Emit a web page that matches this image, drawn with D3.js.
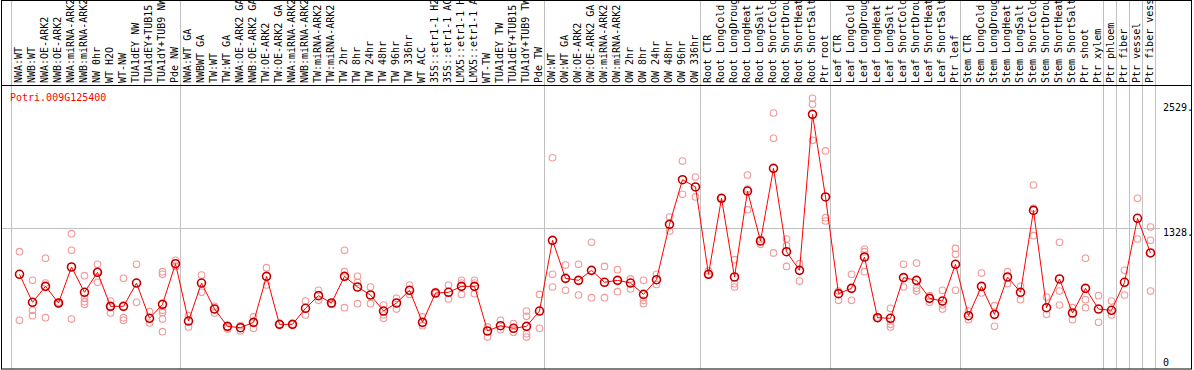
<!DOCTYPE html>
<html>
<head>
<meta charset="utf-8">
<script src="https://d3js.org/d3.v7.min.js"></script>
<style>
  body { margin: 0; background: #fff; }
  svg { display: block; }
  text { font-family: 'DejaVu Sans Mono', monospace; font-size: 10px; }
</style>
</head>
<body>
<svg></svg>
<script>
var geneName = "Potri.009G125400";

var sampleLabels = [
  "NWA:WT", "NWB:WT", "NWA:OE-ARK2", "NWB:OE-ARK2", "NWA:miRNA-ARK2", "NWB:miRNA-ARK2",
  "NW 0hr", "WT H2O", "WT-NW", "TUA1dEY NW", "TUA1dEY+TUB15", "TUA1dY+TUB9 NW", "Pde NW",
  "NWA:WT GA", "NWBWT GA", "TW:WT", "TW:WT GA", "NWA:OE-ARK2 GA", "NWB:OE-ARK2 GA",
  "TW:OE-ARK2", "TW:OE-ARK2 GA", "NWA:miRNA-ARK2", "NWB:miRNA-ARK2", "TW:miRNA-ARK2",
  "TW:miRNA-ARK2", "TW 2hr", "TW 8hr", "TW 24hr", "TW 48hr", "TW 96hr", "TW 336hr",
  "WT ACC", "35S::etr1-1 H2O", "35S::etr1-1 ACC", "LMX5::etr1-1 H2O", "LMX5::etr1-1 ACC",
  "WT-TW", "TUA1dEY TW", "TUA1dEY+TUB15", "TUA1dY+TUB9 TW", "Pde TW",
  "OW:WT", "OW:WT GA", "OW:OE-ARK2", "OW:OE-ARK2 GA", "OW:miRNA-ARK2", "OW:miRNA-ARK2",
  "OW 2hr", "OW 8hr", "OW 24hr", "OW 48hr", "OW 96hr", "OW 336hr",
  "Root CTR", "Root LongCold", "Root LongDrought", "Root LongHeat", "Root LongSalt",
  "Root ShortCold", "Root ShortDrought", "Root ShortHeat", "Root ShortSalt", "Ptr root",
  "Leaf CTR", "Leaf LongCold", "Leaf LongDrought", "Leaf LongHeat", "Leaf LongSalt",
  "Leaf ShortCold", "Leaf ShortDrought", "Leaf ShortHeat", "Leaf ShortSalt", "Ptr leaf",
  "Stem CTR", "Stem LongCold", "Stem LongDrought", "Stem LongHeat", "Stem LongSalt",
  "Stem ShortCold", "Stem ShortDrought", "Stem ShortHeat", "Stem ShortSalt", "Ptr shoot",
  "Ptr xylem", "Ptr phloem", "Ptr fiber", "Ptr vessel", "Ptr fiber vessel"
];

// mittelwerte
var meanValues = [
  886, 617, 770, 610, 956, 713, 905, 578, 578, 802, 463, 597, 988,
  437, 802, 552, 386, 373, 424, 866, 405, 405, 559, 681, 610, 866, 764, 687, 533, 610, 732,
  424, 706, 713, 770, 770, 341, 392, 367, 386, 533,
  1212, 847, 828, 924, 809, 828, 802, 693, 834, 1366, 1795, 1725,
  886, 1616, 860, 1686, 1206, 1904, 1103, 924, 2423, 1629,
  700, 751, 1052, 469, 463, 854, 828, 655, 629, 982,
  488, 770, 501, 860, 713, 1500, 565, 841, 514, 751,
  552, 540, 809, 1424, 1091
];

// einzelne Replikate
var replicateValues = [
  [1103, 444], [828, 540, 488], [1039, 802, 469], [610, 617, 604], [1276, 1116, 456],
  [873, 655, 623, 597], [982, 911, 809], [629, 578, 514], [847, 469, 444], [982, 617],
  [527, 418], [911, 886, 540, 520, 456, 335], [1020, 962],
  [488, 380], [879, 713], [578, 514], [380, 360], [392, 341], [476, 367], [950, 783],
  [405], [405], [629, 495], [732, 636], [604, 597], [1116, 911, 565], [866, 809, 604],
  [764, 604], [591, 463, 495], [655, 552], [783, 693],
  [476, 392], [719, 700], [783, 649], [828, 802, 693], [828, 802, 700], [380, 283],
  [444, 354], [412, 328], [533, 482, 315, 283], [693, 367],
  [2006, 886, 764], [975, 732], [982, 687], [1193, 661], [962, 661], [930, 719],
  [841, 745], [828, 636, 604], [886, 789], [1436, 1302], [1974, 1654], [1821, 1629],
  [918, 886], [1616, 1622], [1026, 796, 764], [1840, 1705, 1507], [1225, 1174],
  [2436, 2192, 1091], [1225, 1161, 962], [988, 821], [2577, 2519, 2173], [2071, 1430, 1398],
  [725, 636], [886, 636], [1129, 1103, 911], [463, 476], [559, 405, 380],
  [982, 764], [994, 751, 725], [681, 617], [732, 591, 552], [1135, 1078, 732],
  [533, 450], [898, 706], [584, 386], [911, 796], [770, 642], [1744, 1520, 1257],
  [668, 501], [1193, 725, 591], [565, 450], [1039, 642, 565],
  [681, 424], [629, 495], [924, 687], [1616, 1225], [1340, 1212, 725]
];

// Index der ersten Probe jeder Gruppe
var groupStarts = [0, 13, 41, 53, 63, 73, 84, 85, 86, 87];
var tickValues = [0, 1328, 2529];
var gridValues = [1328];

var width = 1194, height = 370;
var svg = d3.select("svg").attr("width", width).attr("height", height);

var x = d3.scaleBand().domain(d3.range(sampleLabels.length)).range([11, 1155]);
var y = d3.scaleLinear().domain([0, 2529]).range([366.5, 103.3]);
var cx = function (i) { return x(i) + 8.5; };

// Gruppentrenner
svg.append("g").selectAll("line")
  .data(groupStarts.map(function (i) { return x(i); }).concat([x.range()[1]]))
  .enter().append("line")
  .attr("x1", function (d) { return Math.round(d) + 0.5; })
  .attr("x2", function (d) { return Math.round(d) + 0.5; })
  .attr("y1", 0).attr("y2", 369)
  .attr("stroke", "#c0c0c0");

// horizontale Linie
svg.append("g").selectAll("line")
  .data(gridValues)
  .enter().append("line")
  .attr("x1", 1).attr("x2", 1160)
  .attr("y1", function (d) { return Math.round(y(d)) + 0.5; })
  .attr("y2", function (d) { return Math.round(y(d)) + 0.5; })
  .attr("stroke", "#c0c0c0");

// Rahmen
svg.append("rect")
  .attr("x", 1.5).attr("y", 0.5).attr("width", 1190).attr("height", 368.5)
  .attr("fill", "none").attr("stroke", "#000");
svg.append("line")
  .attr("x1", 1).attr("x2", 1192).attr("y1", 85.5).attr("y2", 85.5)
  .attr("stroke", "#000");

// Probenbeschriftung
svg.append("g").selectAll("text")
  .data(sampleLabels)
  .enter().append("text")
  .attr("transform", function (d, i) { return "translate(" + (x(i) + 7) + ",83) rotate(-90)"; })
  .attr("dy", "0.35em")
  .attr("fill", "#000")
  .text(function (d) { return d; });

// Achsenbeschriftung rechts
svg.append("g").selectAll("text")
  .data(tickValues)
  .enter().append("text")
  .attr("x", 1163)
  .attr("y", function (d) { return d === 0 ? 365.5 : y(d) + 8; })
  .attr("fill", "#000")
  .text(function (d) { return d === 0 ? "0" : d + "."; });

// Replikate
var reps = [];
replicateValues.forEach(function (arr, i) {
  arr.forEach(function (v) { reps.push({ i: i, v: v }); });
});
svg.append("g").selectAll("circle")
  .data(reps)
  .enter().append("circle")
  .attr("cx", function (d) { return cx(d.i); })
  .attr("cy", function (d) { return y(d.v); })
  .attr("r", 3.3)
  .attr("fill", "none")
  .attr("stroke", "#f09a9a")
  .attr("stroke-width", 1.1);

// Linie der Mittelwerte
var line = d3.line()
  .x(function (d, i) { return cx(i); })
  .y(function (d) { return y(d); });
svg.append("path")
  .datum(meanValues)
  .attr("d", line)
  .attr("fill", "none")
  .attr("stroke", "#ff0000")
  .attr("stroke-width", 1);

var means = svg.append("g").selectAll("g")
  .data(meanValues)
  .enter().append("g")
  .attr("transform", function (d, i) { return "translate(" + cx(i) + "," + y(d) + ")"; });
means.append("circle")
  .attr("r", 4)
  .attr("fill", "none")
  .attr("stroke", "#ff0000")
  .attr("stroke-width", 1.6);
means.append("circle")
  .attr("r", 4)
  .attr("fill", "none")
  .attr("stroke", "#000")
  .attr("stroke-width", 0.5)
  .attr("stroke-opacity", 0.7);

// Gen-Name
svg.append("text")
  .attr("x", 10).attr("y", 101)
  .attr("fill", "#ff0000")
  .text(geneName);
</script>
</body>
</html>
